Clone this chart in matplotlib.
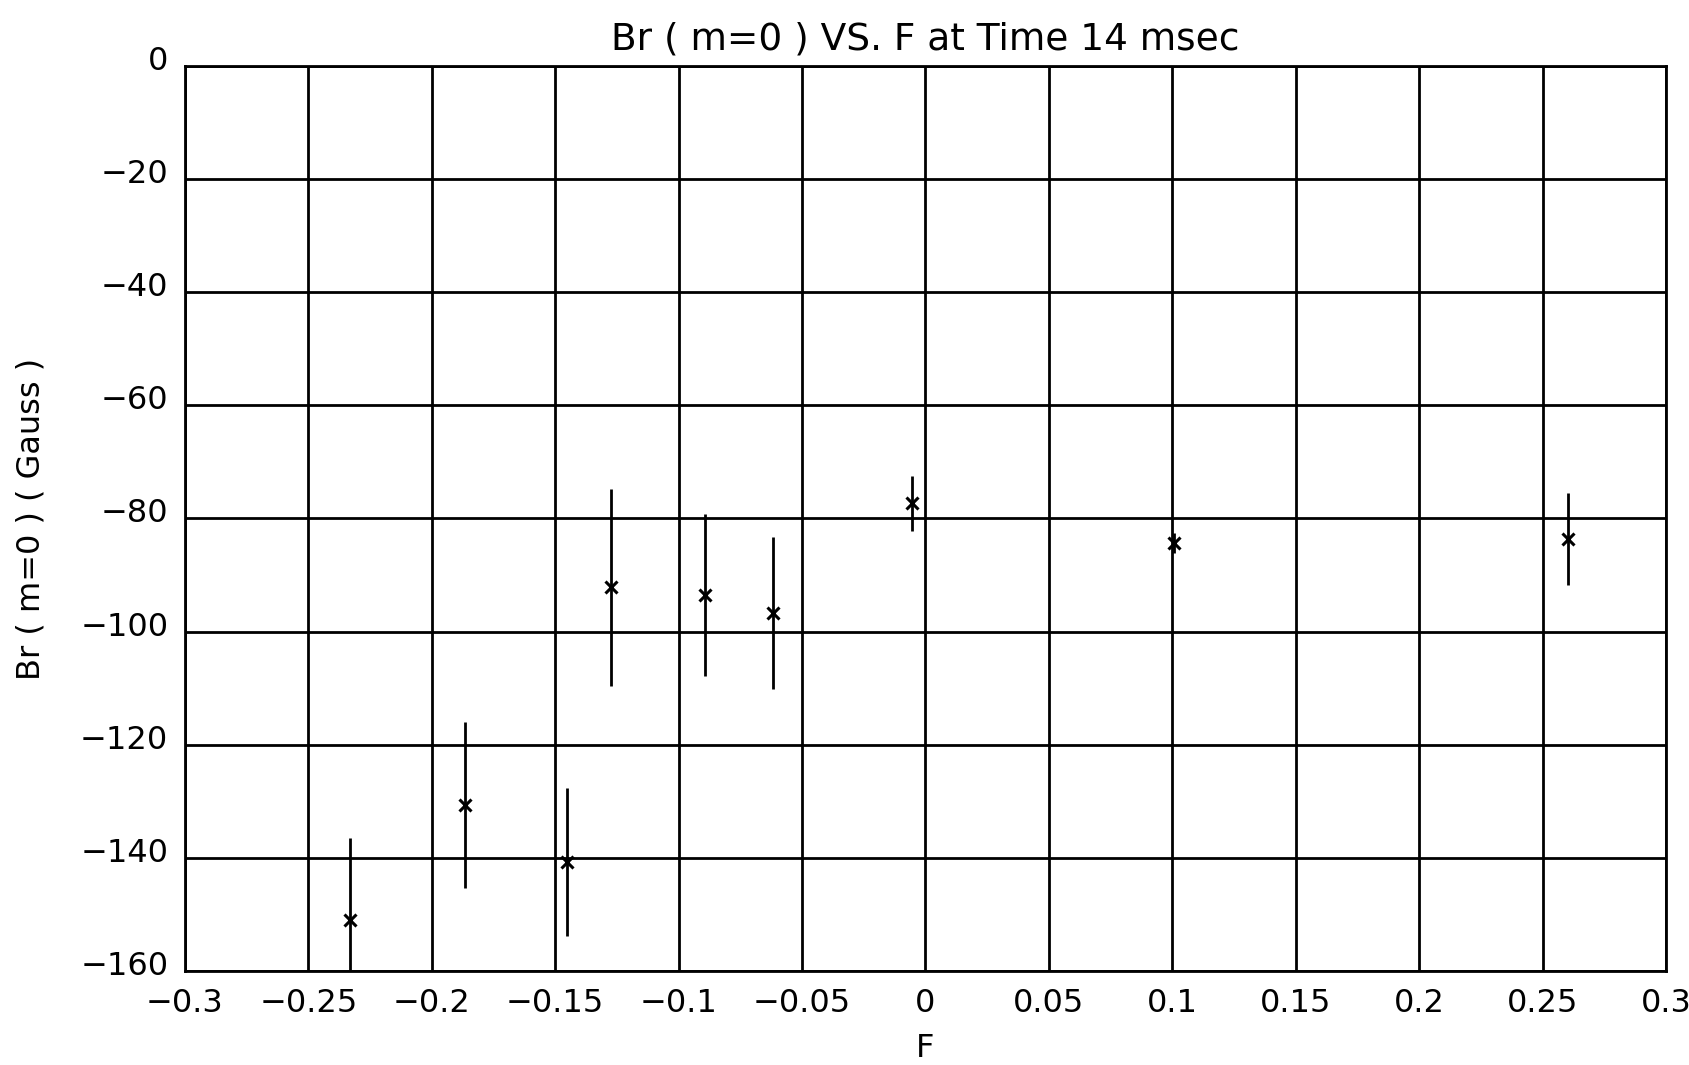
import matplotlib.pyplot as plt
import matplotlib.transforms as mtransforms

# values
F = [-0.233, -0.1865, -0.1453, -0.1274, -0.0892, -0.0616, -0.0056, 0.1005, 0.2602]
Br = [-151.0, -130.7, -140.8, -92.2, -93.5, -96.7, -77.3, -84.3, -83.6]
BrErr = [14.5, 14.7, 13.1, 17.4, 14.3, 13.5, 4.9, 1.8, 8.1]

xticks = [-0.3, -0.25, -0.2, -0.15, -0.1, -0.05, 0, 0.05, 0.1, 0.15, 0.2, 0.25, 0.3]
xticklabels = ['\u22120.3', '\u22120.25', '\u22120.2', '\u22120.15', '\u22120.1', '\u22120.05',
               '0', '0.05', '0.1', '0.15', '0.2', '0.25', '0.3']
yticks = [0, -20, -40, -60, -80, -100, -120, -140, -160]
yticklabels = ['0', '\u221220', '\u221240', '\u221260', '\u221280', '\u2212100',
               '\u2212120', '\u2212140', '\u2212160']

fig = plt.figure(figsize=(16.89, 10.65), dpi=100)
ax = fig.add_axes([0.1095, 0.0883, 0.8769, 0.8497])

ax.errorbar(F, Br, yerr=BrErr, fmt='x', color='black', ecolor='black',
            markersize=9, markeredgewidth=2.2, elinewidth=2, capsize=0, clip_on=True)

ax.set_xlim(-0.3, 0.3)
ax.set_ylim(-160, 0)
ax.set_xticks(xticks)
ax.set_xticklabels(xticklabels, fontsize=23)
ax.set_yticks(yticks)
ax.set_yticklabels(yticklabels, fontsize=23)
ax.tick_params(length=0, pad=12)
ax.grid(True, color='black', linewidth=2)
ax.set_axisbelow(True)
for s in ax.spines.values():
	s.set_linewidth(2)

# y labels sit a little above their grid lines in the original
offset = mtransforms.ScaledTranslation(0, 8 / 100, fig.dpi_scale_trans)
for lab in ax.get_yticklabels():
	lab.set_transform(lab.get_transform() + offset)

ax.set_title('Br ( m=0 ) VS. F at Time 14 msec', fontsize=27, pad=12)
ax.set_xlabel('F', fontsize=23, labelpad=10)
ax.set_ylabel('Br ( m=0 ) ( Gauss )', fontsize=23, labelpad=24)

plt.savefig('out.png')
